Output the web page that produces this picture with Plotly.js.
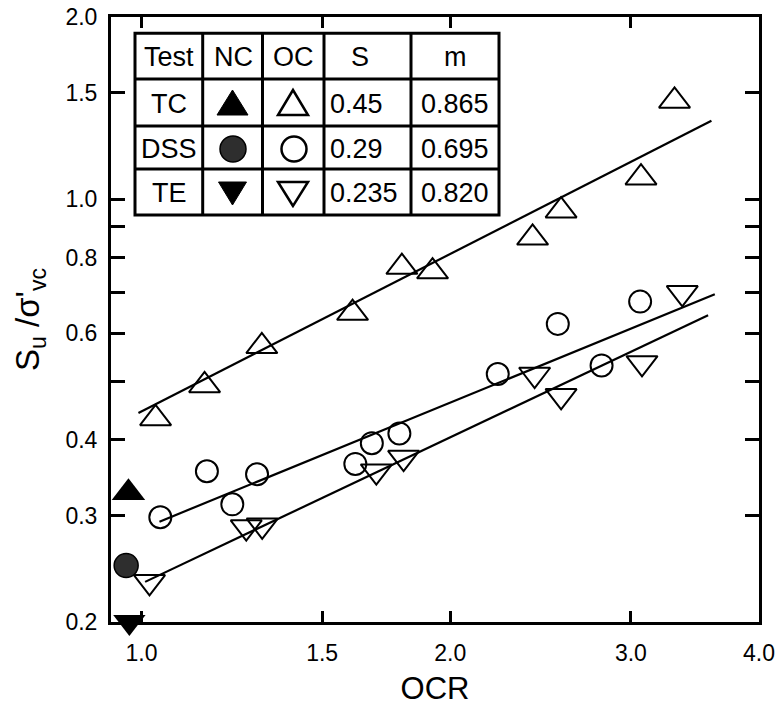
<!DOCTYPE html>
<html>
<head>
<meta charset="utf-8">
<script src="https://cdn.plot.ly/plotly-3.0.1.min.js"></script>
<style>
html,body{margin:0;padding:0;background:#fff;}
#chart{width:780px;height:706px;}
</style>
</head>
<body>
<div id="chart"></div>
<script>
// ---------- data ----------
const tcOcOCR  = [1.032, 1.152, 1.310, 1.606, 1.794, 1.922, 2.406, 2.565, 3.069, 3.309];
const tcOcSu   = [0.434, 0.492, 0.571, 0.648, 0.772, 0.759, 0.863, 0.957, 1.085, 1.453];
const dssOcOCR = [1.043, 1.158, 1.226, 1.296, 1.616, 1.677, 1.784, 2.225, 2.546, 2.809, 3.063];
const dssOcSu  = [0.298, 0.355, 0.313, 0.351, 0.365, 0.395, 0.410, 0.514, 0.622, 0.531, 0.677];
const teOcOCR  = [1.018, 1.265, 1.311, 1.694, 1.801, 2.417, 2.565, 3.076, 3.367];
const teOcSu   = [0.233, 0.287, 0.289, 0.355, 0.374, 0.513, 0.473, 0.536, 0.700];

const tcNcOCR  = [0.971];  const tcNcSu  = [0.327];
const dssNcOCR = [0.966];  const dssNcSu = [0.248];
const teNcOCR  = [0.973];  const teNcSu  = [0.2];

const tcFitOCR  = [0.993, 3.595];  const tcFitSu  = [0.443, 1.348];
const dssFitOCR = [1.041, 3.622];  const dssFitSu = [0.293, 0.696];
const teFitOCR  = [1.008, 3.568];  const teFitSu  = [0.233, 0.643];

const xTickVals = [1, 1.5, 2, 3, 4];
const xTickText = ['1.0', '1.5', '2.0', '3.0', '4.0'];
const yTickVals = [0.2, 0.3, 0.4, 0.6, 0.8, 1.0, 1.5, 2.0];
const yTickText = ['0.2', '0.3', '0.4', '0.6', '0.8', '1.0', '1.5', '2.0'];
const yMinorVals = [0.5, 0.7, 0.9];

const tableHeader = ['Test', 'NC', 'OC', 'S', 'm'];
const tableTests  = ['TC', 'DSS', 'TE'];
const tableS      = ['0.45', '0.29', '0.235'];
const tableM      = ['0.865', '0.695', '0.820'];

// ---------- layout geometry ----------
const FONT = 'Liberation Sans, Arial, sans-serif';
const M = {l: 111, r: 21, t: 17, b: 84};
const W = 780 - M.l - M.r, H = 706 - M.t - M.b;
const P = px => (px - M.l) / W;          // pixel -> paper x
const Q = py => 1 - (py - M.t) / H;      // pixel -> paper y

const blk = '#000';
function openMarker(sym, size) {
  return {symbol: sym, size: size, color: blk, line: {color: blk, width: 2}};
}

const traces = [
  {x: tcFitOCR, y: tcFitSu, mode: 'lines', line: {color: blk, width: 2.2}, hoverinfo: 'skip'},
  {x: dssFitOCR, y: dssFitSu, mode: 'lines', line: {color: blk, width: 2.2}, hoverinfo: 'skip'},
  {x: teFitOCR, y: teFitSu, mode: 'lines', line: {color: blk, width: 2.2}, hoverinfo: 'skip'},
  {x: tcOcOCR, y: tcOcSu, mode: 'markers', name: 'TC OC', marker: openMarker('triangle-up-open', 27)},
  {x: dssOcOCR, y: dssOcSu, mode: 'markers', name: 'DSS OC', marker: openMarker('circle-open', 22)},
  {x: teOcOCR, y: teOcSu, mode: 'markers', name: 'TE OC', marker: openMarker('triangle-down-open', 27)},
  {x: tcNcOCR, y: tcNcSu, mode: 'markers', name: 'TC NC', cliponaxis: false,
   marker: {symbol: 'triangle-up', size: 29, color: blk}},
  {x: dssNcOCR, y: dssNcSu, mode: 'markers', name: 'DSS NC', cliponaxis: false,
   marker: {symbol: 'circle', size: 24, color: '#2e2e2e', line: {color: blk, width: 1.5}}},
  {x: teNcOCR, y: teNcSu, mode: 'markers', name: 'TE NC', cliponaxis: false,
   marker: {symbol: 'triangle-down', size: 28, color: blk}}
];

// ---------- table (shapes + annotations) ----------
const colX = [135, 202.7, 262.5, 324, 411, 499];
const rowY = [33.3, 79, 126, 169, 215];
const shapes = [];
const annotations = [];
shapes.push({type: 'rect', xref: 'paper', yref: 'paper', x0: P(colX[0]), x1: P(colX[5]),
  y0: Q(rowY[0]), y1: Q(rowY[4]), line: {color: blk, width: 3}, fillcolor: '#fff', layer: 'above'});
for (let i = 1; i < colX.length - 1; i++) {
  shapes.push({type: 'line', xref: 'paper', yref: 'paper', x0: P(colX[i]), x1: P(colX[i]),
    y0: Q(rowY[0]), y1: Q(rowY[4]), line: {color: blk, width: 3}});
}
for (let j = 1; j < rowY.length - 1; j++) {
  shapes.push({type: 'line', xref: 'paper', yref: 'paper', x0: P(colX[0]), x1: P(colX[5]),
    y0: Q(rowY[j]), y1: Q(rowY[j]), line: {color: blk, width: 3}});
}
function txt(s, cx, cy, anchor) {
  annotations.push({text: s, xref: 'paper', yref: 'paper', x: P(cx), y: Q(cy),
    xanchor: anchor || 'center', yanchor: 'middle', showarrow: false,
    font: {family: FONT, size: 27, color: blk}});
}
const colC = [169, 233, 293, 360, 455];
const rowC = rowY.slice(0, 4).map((v, i) => (v + rowY[i + 1]) / 2);
tableHeader.forEach((h, i) => txt(h, colC[i], rowC[0] + 1));
tableTests.forEach((t, i) => txt(t, colC[0], rowC[i + 1] + 1));
tableS.forEach((s, i) => txt(s, 328, rowC[i + 1] + 1, 'left'));
tableM.forEach((m, i) => txt(m, colC[4], rowC[i + 1] + 1));

function tri(cx, cy, w, h, up, filled) {
  const a = up ? cy - h / 2 : cy + h / 2, b = up ? cy + h / 2 : cy - h / 2;
  shapes.push({type: 'path', xref: 'paper', yref: 'paper',
    path: `M ${P(cx)},${Q(a)} L ${P(cx - w / 2)},${Q(b)} L ${P(cx + w / 2)},${Q(b)} Z`,
    fillcolor: filled ? blk : 'rgba(0,0,0,0)', line: {color: blk, width: filled ? 1 : 2.5}});
}
function circ(cx, cy, d, filled) {
  shapes.push({type: 'circle', xref: 'paper', yref: 'paper',
    x0: P(cx - d / 2), x1: P(cx + d / 2), y0: Q(cy + d / 2), y1: Q(cy - d / 2),
    fillcolor: filled ? '#2e2e2e' : 'rgba(0,0,0,0)', line: {color: blk, width: filled ? 1.5 : 2.5}});
}
tri(232.5, 102.5, 31, 25, true, true);
circ(233, 149, 26, true);
tri(232.5, 193.5, 28, 23, false, true);
tri(293, 102.5, 30, 25, true, false);
circ(294, 149, 25, false);
tri(293, 194, 30, 24, false, false);

const layout = {
  width: 780, height: 706,
  margin: M,
  paper_bgcolor: '#fff', plot_bgcolor: '#fff',
  showlegend: false,
  font: {family: FONT, color: blk},
  xaxis: {
    type: 'log', range: [-0.0298, 0.60206],
    tickmode: 'array', tickvals: xTickVals, ticktext: xTickText,
    ticks: 'inside', ticklen: 11, tickwidth: 3, tickcolor: blk,
    showline: true, linewidth: 3, linecolor: blk, mirror: 'ticks',
    showgrid: false, zeroline: false,
    tickfont: {family: FONT, size: 23, color: blk},
    ticklabelstandoff: 8,
    title: {text: 'OCR', font: {family: FONT, size: 31, color: blk}, standoff: 18}
  },
  yaxis: {
    type: 'log', range: [Math.log10(0.2), Math.log10(2)],
    tickmode: 'array', tickvals: yTickVals, ticktext: yTickText,
    ticks: 'inside', ticklen: 14, tickwidth: 3, tickcolor: blk,
    minor: {tickmode: 'array', tickvals: yMinorVals, ticks: 'inside', ticklen: 14,
            tickwidth: 3, tickcolor: blk, showgrid: false},
    showline: true, linewidth: 3, linecolor: blk, mirror: 'ticks',
    showgrid: false, zeroline: false,
    tickfont: {family: FONT, size: 23, color: blk},
    ticklabelstandoff: 6,
    title: {text: "S<sub>u</sub> /σ'<sub>vc</sub>", font: {family: FONT, size: 33, color: blk}, standoff: 16}
  },
  shapes: shapes,
  annotations: annotations
};

Plotly.newPlot('chart', traces, layout, {displayModeBar: false, staticPlot: true});
</script>
</body>
</html>
